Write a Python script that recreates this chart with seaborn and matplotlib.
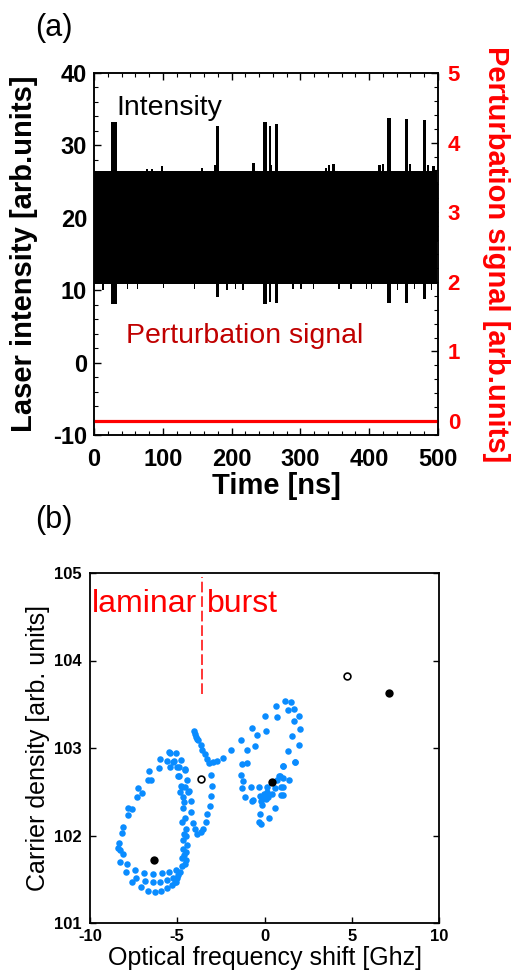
import matplotlib
matplotlib.use('Agg')
import matplotlib.pyplot as plt
import seaborn as sns
from matplotlib.ticker import MultipleLocator

# ---- panel (a): laser intensity envelope ----
band_start = [0, 498.5]
band_end = [498.5, 500]
band_low = [10.8, 16.6]
band_high = [26.4, 25.0]

# bursts: start, end, peak, trough  [ns / arb.units]
burst_start = [25, 177, 245.5, 254, 263, 425.5, 452, 477.5]
burst_end = [33.5, 182, 252, 257, 267, 431.5, 456, 482.5]
burst_peak = [33.2, 32.7, 33.2, 32.7, 32.9, 33.8, 33.7, 33.5]
burst_trough = [8.1, 9.0, 8.1, 8.4, 8.2, 8.2, 8.2, 8.8]

# small bumps on the upper edge
bump_start = [75, 83, 98, 155, 175, 229, 257, 336, 340, 346, 413, 418, 458, 484, 492]
bump_end = [78, 86, 100, 158, 177, 234, 259, 339, 343, 350, 417, 421, 461, 487, 496]
bump_peak = [26.8, 26.7, 27.1, 26.9, 27.3, 27.6, 27.3, 26.9, 27.3, 27.4, 27.3, 27.5, 27.4, 27.3, 27.1]

# small dips on the lower edge
dip_start = [12, 48, 62, 100, 145, 192, 205, 215, 288, 300, 318, 355, 372, 395, 402, 440, 465, 490]
dip_end = [14, 50, 64, 102, 147, 195, 207, 218, 290, 302, 320, 357, 375, 397, 404, 442, 467, 492]
dip_low = [10.0, 10.1, 10.2, 10.3, 10.1, 10.0, 10.2, 10.0, 10.2, 10.1, 10.2, 10.1, 10.2, 10.1, 10.2, 10.0, 10.1, 10.0]

pert_time = [0, 500]
pert_value = [0, 0]

# ---- panel (b): trajectory in (frequency shift, carrier density) ----
traj_x = [
    -5.45, -5.07, -5.97, -5.59, -5.20, -4.79, -6.60, -6.03, -5.41, -4.90, -4.56,
    -6.52, -6.66, -4.90, -4.42, -7.25, -7.04, -4.79, -4.35, -7.33, -4.65, -4.19,
    -7.80, -7.57, -7.82, -4.69, -4.23, -8.09, -8.19, -4.56, -4.50, -8.32, -8.38,
    -4.50, -4.65, -4.42, -8.13, -4.69, -4.50, -8.28, -8.28, -7.90, -4.75, -4.50,
    -7.42, -7.96, -6.89, -6.37, -5.87, -5.49, -5.07, -4.75, -4.56,
    -7.57, -7.36, -6.85, -6.41, -5.99, -5.61, -5.26, -4.94,
    -7.10, -6.66, -6.28, -5.93, -5.61, -5.32, -5.07,
    -4.85, -5.00, -5.15, -4.60, -4.62, -4.72, -4.62, -4.84, -4.55, -5.22, -4.99,
    -4.57, -4.94, -5.42, -4.75, -4.37,
    -4.04, -4.00, -3.93, -3.86, -3.79, -3.66, -3.58, -3.41, -3.31, -3.16, -2.93,
    -2.70, -2.36, -1.90, -1.37, -1.02, -0.72, -0.54, -0.45, 0.01, 0.09, 0.64,
    0.74, 1.17, 1.52, 1.33, 1.71, 1.96, 1.71, 2.05, 1.60, 1.96, 1.37, 1.73, 1.04,
    -3.09, -3.03, -3.09, -3.12, -3.28, -3.35, -3.51, -3.66, -3.85, -3.98, -4.08,
    -1.02, -1.31, -1.35, -1.21, -1.31, -0.79, -0.30, 0.12, 0.93, 0.58, 0.12, 0.41,
    -0.03, -1.10, 1.04, -0.14, 0.22, -0.64, 0.85, 1.08, 1.42, 0.70,
    -0.74, -0.20, -0.16, -0.26, -0.30, -0.18, 0.26, 0.09, 0.62, 0.95, 1.04, 0.89,
    1.08, 1.75, -0.26,
]
traj_y = [
    102.95, 102.94, 102.88, 102.85, 102.85, 102.86, 102.74, 102.77, 102.78, 102.78, 102.75,
    102.64, 102.64, 102.68, 102.63, 102.54, 102.49, 102.57, 102.51, 102.44, 102.44, 102.40,
    102.31, 102.30, 102.23, 102.31, 102.27, 102.10, 102.03, 102.20, 102.08, 101.91, 101.86,
    101.99, 101.95, 101.89, 101.79, 101.85, 101.81, 101.70, 101.83, 101.68, 101.74, 101.72,
    101.61, 101.58, 101.575, 101.56, 101.575, 101.58, 101.61, 101.65, 101.67,
    101.47, 101.51, 101.48, 101.47, 101.47, 101.49, 101.51, 101.55,
    101.41, 101.37, 101.36, 101.37, 101.40, 101.43, 101.47,
    101.58, 101.52, 101.47, 101.78, 102.02, 102.15, 102.38, 102.50, 102.56, 102.84, 102.78,
    102.76, 102.68, 102.94, 102.56, 102.50,
    103.19, 103.16, 103.13, 103.10, 103.09, 103.03, 102.98, 102.93, 102.87, 102.83, 102.84,
    102.85, 102.89, 102.98, 103.09, 102.98, 103.23, 103.02, 103.15, 103.37, 103.20, 103.48,
    103.35, 103.54, 103.53, 103.44, 103.45, 103.37, 103.31, 103.22, 103.14, 103.04, 102.97, 102.84, 102.79,
    102.69, 102.57, 102.45, 102.34, 102.25, 102.15, 102.08, 102.04, 102.02, 102.08, 102.14,
    102.83, 102.82, 102.69, 102.62, 102.54, 102.56, 102.55, 102.56, 102.55, 102.54, 102.50, 102.48,
    102.47, 102.44, 102.46, 102.43, 102.44, 102.41, 102.68, 102.66, 102.64, 102.63,
    102.39, 102.39, 102.35, 102.25, 102.16, 102.13, 102.20, 102.42, 102.31, 102.46, 102.56, 102.68,
    102.79, 102.84, 102.45,
]
filled_x = [-6.31, 0.43, 7.13]
filled_y = [101.72, 102.615, 103.63]
open_x = [-3.66, 4.73]
open_y = [102.65, 103.82]

boundary_x = [-3.6, -3.6]
boundary_y = [103.62, 104.96]

sns.set_style('ticks')
plt.rcParams['font.family'] = ['Liberation Sans', 'DejaVu Sans']
plt.rcParams.update({
    'axes.linewidth': 1.1,
    'axes.edgecolor': 'black',
    'axes.labelcolor': 'black',
    'text.color': 'black',
    'xtick.color': 'black',
    'ytick.color': 'black',
    'axes.unicode_minus': False,
})

fig = plt.figure(figsize=(5.12, 9.74), dpi=100)

# ---------------- (a) ----------------
ax1 = fig.add_axes([94 / 512, 1 - 435 / 974, 344 / 512, 362 / 974])
for t0, t1, lo, hi in zip(band_start, band_end, band_low, band_high):
    ax1.fill_between([t0, t1], [lo, lo], [hi, hi], color='black', lw=0)
for t0, t1, hi, lo in zip(burst_start, burst_end, burst_peak, burst_trough):
    ax1.fill_between([t0, t1], [lo, lo], [hi, hi], color='black', lw=0)
for t0, t1, hi in zip(bump_start, bump_end, bump_peak):
    ax1.fill_between([t0, t1], [band_low[0]] * 2, [hi, hi], color='black', lw=0)
for t0, t1, lo in zip(dip_start, dip_end, dip_low):
    ax1.fill_between([t0, t1], [lo, lo], [band_high[0]] * 2, color='black', lw=0)

ax1.set_xlim(0, 500)
ax1.set_ylim(-10, 40)
ax1.xaxis.set_major_locator(MultipleLocator(100))
ax1.xaxis.set_minor_locator(MultipleLocator(20))
ax1.yaxis.set_major_locator(MultipleLocator(10))
ax1.yaxis.set_minor_locator(MultipleLocator(2))
ax1.tick_params(which='both', direction='in', top=True, right=False)
ax1.tick_params(which='major', length=5, width=1)
ax1.tick_params(which='minor', length=3, width=0.8)
ax1.tick_params(axis='x', pad=9)
ax1.tick_params(axis='y', pad=5)
for lab in ax1.get_xticklabels() + ax1.get_yticklabels():
    lab.set_fontsize(17)
    lab.set_fontweight('bold')

ax1.set_xlabel('Time [ns]', fontsize=21, fontweight='bold', va='center')
ax1.xaxis.set_label_coords(0.53, -0.14)
ax1.set_ylabel('Laser intensity [arb.units]', fontsize=21, fontweight='bold',
               va='center', ha='center')
ax1.yaxis.set_label_coords(-0.203, 0.5)

ax1.text(32.6, 34.2, 'Intensity', fontsize=20.5, color='black', va='baseline')
ax1.text(46.3, 2.67, 'Perturbation signal', fontsize=20.5, color='#C00000', va='baseline')

ax2 = ax1.twinx()
sns.lineplot(x=pert_time, y=pert_value, ax=ax2, color='#FF0000', lw=2.3)
ax2.set_ylim(-0.2, 5)
ax2.yaxis.set_major_locator(MultipleLocator(1))
ax2.yaxis.set_minor_locator(MultipleLocator(0.2))
ax2.tick_params(which='both', direction='in', right=True, left=False, colors='black',
                labelcolor='#FF0000', pad=7)
ax2.tick_params(which='major', length=5, width=1)
ax2.tick_params(which='minor', length=3, width=0.8)
for lab in ax2.get_yticklabels():
    lab.set_fontsize(16)
    lab.set_fontweight('bold')
ax2.set_ylabel('Perturbation signal [arb.units]', fontsize=21, fontweight='bold',
               color='#FF0000', rotation=270, va='center', ha='center')
ax2.yaxis.set_label_coords(1.169, 0.5)

fig.text(54 / 512, 1 - 28 / 974, '(a)', fontsize=22, ha='center', va='center')

# ---------------- (b) ----------------
bx = fig.add_axes([90 / 512, 1 - 923 / 974, 349 / 512, 350 / 974])
sns.scatterplot(x=traj_x, y=traj_y, ax=bx, color='#0A8CFF', s=22, linewidth=0, zorder=2)
sns.scatterplot(x=filled_x, y=filled_y, ax=bx, color='black', s=36, linewidth=0, zorder=3)
sns.scatterplot(x=open_x, y=open_y, ax=bx, facecolor='white', edgecolor='black',
                s=24, linewidth=1.2, zorder=3)
bx.plot(boundary_x, boundary_y, color='#FF0000', lw=1.1, dashes=(7, 2.5))
bx.text(-3.87, 104.55, 'laminar', fontsize=23, color='#FF0000', ha='right', va='baseline')
bx.text(-3.31, 104.55, 'burst', fontsize=23, color='#FF0000', ha='left', va='baseline')

bx.set_xlim(-10, 10)
bx.set_ylim(101, 105)
bx.set_xticks([-10, -5, 0, 5, 10])
bx.set_yticks([101, 102, 103, 104, 105])
bx.tick_params(which='both', direction='in', right=True, top=False, length=4, width=1)
bx.tick_params(axis='x', pad=4)
bx.tick_params(axis='y', pad=6)
for lab in bx.get_xticklabels() + bx.get_yticklabels():
    lab.set_fontsize(12)
    lab.set_fontweight('bold')
for sp in bx.spines.values():
    sp.set_linewidth(1.3)
bx.set_xlabel('Optical frequency shift [Ghz]', fontsize=18, va='center')
bx.xaxis.set_label_coords(0.5, -0.1)
bx.set_ylabel('Carrier density [arb. units]', fontsize=18, va='center', ha='center')
bx.yaxis.set_label_coords(-0.149, 0.5)

fig.text(54 / 512, 1 - 520 / 974, '(b)', fontsize=22, ha='center', va='center')

fig.savefig('out.png', dpi=100)
